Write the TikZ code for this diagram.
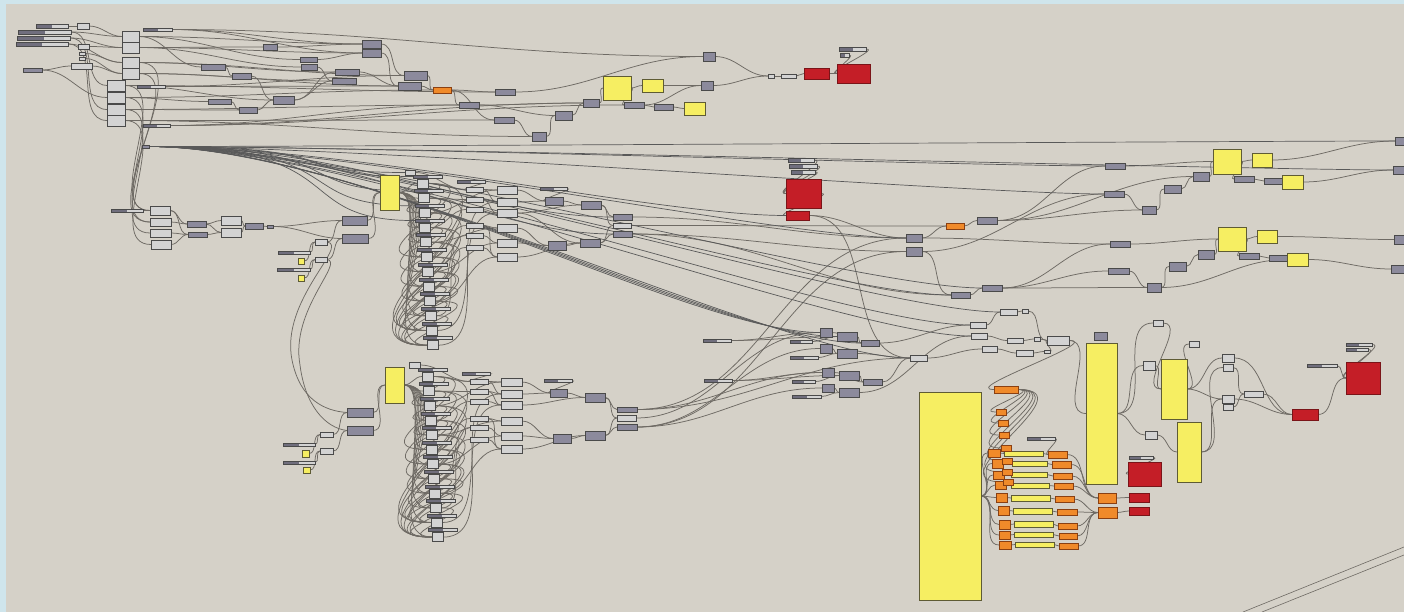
\documentclass[tikz,border=0pt]{standalone}
\usetikzlibrary{positioning}
\pgfdeclarelayer{canvaslayer}
\pgfdeclarelayer{wirelayer}
\pgfsetlayers{canvaslayer,wirelayer,main}
\definecolor{canvas}{HTML}{D5D1C8}
\definecolor{ghblue}{HTML}{CFE5EC}
\definecolor{ghdark}{HTML}{8C8A9C}
\definecolor{ghlight}{HTML}{D3D3D3}
\definecolor{ghedge}{HTML}{4A4A4A}
\definecolor{ghyellow}{HTML}{F6EE62}
\definecolor{ghyedge}{HTML}{5E5B34}
\definecolor{ghred}{HTML}{C41E27}
\definecolor{ghredge}{HTML}{7A1418}
\definecolor{ghorange}{HTML}{F08A2A}
\definecolor{ghoedge}{HTML}{8A4012}
\definecolor{ghwire}{HTML}{6E6A64}
\begin{document}
\begin{tikzpicture}[x=1pt, y=-1pt,
  box/.style={rectangle, inner sep=0pt, outer sep=0pt, anchor=north west, line width=0.6pt},
  sz/.style n args={2}{minimum width=#1pt, minimum height=#2pt},
  dk/.style={box, fill=ghdark, draw=ghedge},
  lt/.style={box, fill=ghlight, draw=ghedge},
  sld/.style={lt, path picture={\fill[ghdark!80!black] (path picture bounding box.north west) rectangle (path picture bounding box.south);}},
  yl/.style={box, fill=ghyellow, draw=ghyedge},
  rd/.style={box, fill=ghred, draw=ghredge},
  og/.style={box, fill=ghorange, draw=ghoedge},
  wire/.style={draw=ghwire, line width=0.75pt, out=0, in=180},
  hub/.style={draw=black!65, line width=0.7pt},
]
\useasboundingbox (0,0) rectangle (1404,612);
% --- canvas ---
\begin{pgfonlayer}{canvaslayer}
\fill[canvas] (0,0) rectangle (1404,612);
\fill[ghblue] (0,0) rectangle (1404,4);
\fill[ghblue] (0,0) rectangle (6,612);
\end{pgfonlayer}

% --- sliders ---
\foreach \n/\x/\y/\w/\h in {sl1/36/24/32/4, sl2/18/30/53/4, sl3/17/36/53/4, sl4/16/42/52/4,
  sl5/143/28/29/3, sl6/137/85/28/3, sl7/143/124/27/3, sl8/839/47/27/4, sl32/840/53/9/4,
  sl9/111/209/32/3, sl10/278/251/32/3, sl11/277/268/33/3, sl12/457/180/28/3, sl13/540/187/27/3,
  sl14/788/158/26/4, sl15/789/164/28/4, sl16/791/170/24/4, sl17/703/339/28/3, sl18/790/340/22/3,
  sl19/790/356/28/3, sl20/704/379/28/3, sl21/792/380/23/3, sl22/792/395/29/3, sl23/283/443/32/3,
  sl24/283/461/32/3, sl25/462/372/28/3, sl26/544/379/28/3, sl27/1027/437/28/3, sl28/1129/456/24/3,
  sl29/1307/364/30/3, sl30/1346/343/26/3, sl31/1346/348/22/3}
  \node[sld, sz={\w}{\h}] (\n) at (\x,\y) {};

% --- dark params ---
\foreach \n/\x/\y/\w/\h in {dk1/23/68/19/4, dk2/142/145/7/3, d3/263/44/14/6, d4/300/57/17/5,
  d5/301/64/16/6, d6/201/64/24/6, d7/232/73/19/6, d8/335/69/24/6, d9/332/78/24/6,
  d10/362/40/19/8, d11/362/49/19/8, d12/404/71/23/9, d13/398/82/23/8, d14/459/102/20/6,
  d15/273/96/21/8, d16/208/99/23/5, d17/239/107/18/6, d18/495/89/20/6, d19/494/117/20/6,
  d20/532/132/14/9, d21/555/111/17/9, d22/583/99/16/8, d23/624/102/20/6, d24/654/104/19/6,
  d25/701/81/12/9, d26/703/52/12/9, d27/187/221/19/6, d28/188/232/19/5, d29/245/223/18/6,
  d30/267/225/6/3, d31/342/216/25/9, d32/342/234/26/9, d33/545/197/18/8, d34/581/201/20/8,
  d35/548/241/18/9, d36/580/239/20/8, d37/613/214/19/6, d38/613/231/19/6, d39/977/217/20/7,
  d40/906/234/16/8, d41/906/247/16/9, d42/951/292/19/6, d43/982/285/20/6, d44/1105/163/20/6,
  d45/1193/172/16/9, d46/1234/176/20/6, d47/1264/178/18/6, d48/1164/185/17/8, d49/1104/191/20/6,
  d50/1142/206/14/8, d51/1395/137/12/8, d52/1393/166/12/8, d53/1110/241/20/6, d54/1198/250/16/9,
  d55/1239/253/20/6, d56/1269/255/18/6, d57/1169/262/17/9, d58/1108/268/21/6, d59/1147/283/14/9,
  d60/1394/235/12/9, d61/1391/265/13/8, d62/1094/332/13/8, d63/820/328/12/9, d64/837/332/20/9,
  d65/861/340/18/6, d66/820/344/12/9, d67/837/349/20/9, d68/822/368/12/9, d69/839/371/20/9,
  d70/863/379/19/6, d71/822/384/12/8, d72/839/388/20/9, d73/347/408/26/9, d74/347/426/26/9,
  d75/550/389/17/8, d76/585/393/20/9, d77/553/434/18/9, d78/585/431/20/9, d79/617/407/20/5,
  d80/617/424/20/6}
  \node[dk, sz={\w}{\h}] (\n) at (\x,\y) {};

% --- light components ---
\foreach \n/\x/\y/\w/\h in {lt1/77/23/12/6, lt2/78/44/11/5, lt3/79/52/6/3, lt4/79/57/6/3,
  lt5/71/63/21/6, ca1/122/31/17/11, ca2/122/42/17/11, ca3/122/57/17/11, ca4/122/68/17/11,
  cb1/107/80/18/11, cb2/107/92/18/11, cb3/107/104/18/11, cb4/107/115/18/11,
  ce1/150/206/20/9, ce2/150/218/21/8, ce3/150/229/21/8, ce4/151/240/20/9,
  lt6/221/216/20/9, lt7/221/228/20/9, lt8/315/239/12/6, lt9/315/257/12/5,
  t1/768/74/6/4, t2/781/74/15/4, lta/405/170/10/5, ltb/409/362/11/6,
  m1/466/187/17/5, m2/466/197/17/5, m3/466/207/17/5, m4/466/223/17/5, m5/466/233/17/5, m6/466/245/17/5,
  n1/497/186/20/8, n2/497/198/20/8, n3/497/209/20/8, n4/497/224/20/8, n5/497/239/20/8, n6/497/253/20/8,
  m7/470/379/18/5, m8/470/389/18/5, m9/470/399/18/5, m10/470/416/18/5, m11/470/425/18/5, m12/470/437/18/5,
  n7/501/378/21/8, n8/501/390/21/8, n9/501/401/21/8, n10/501/417/21/8, n11/501/432/21/8, n12/501/445/21/8,
  lt10/613/223/18/5, lt11/1000/309/17/6, t3/1022/309/6/4, lt12/970/322/16/6, lt13/971/333/16/6,
  lt14/1007/338/16/5, t4/1034/337/6/4, lt15/1047/336/22/9, lt16/982/346/15/6, lt17/1016/350/17/6,
  t5/1044/350/6/3, lt18/910/355/17/6, lt19/320/432/13/5, lt20/320/448/13/6, lt22/617/415/19/6,
  lt23/1145/431/12/8, lt24/1153/320/10/6, lt25/1143/361/12/9, lt26/1189/341/10/6,
  lt27/1222/354/12/8, lt28/1223/364/10/7, lt29/1222/395/12/8, lt30/1223/404/10/6, lt31/1244/391/19/6}
  \node[lt, sz={\w}{\h}] (\n) at (\x,\y) {};

% --- spines ---
\foreach \i in {0,...,11} {
  \pgfmathsetmacro\xx{417+0.9*\i}
  \pgfmathsetmacro\yy{179+14.7*\i}
  \node[sld, sz={29}{3}] (spas\i) at (\xx-4,\yy-4) {};
  \node[lt, sz={11}{9}] (spa\i) at (\xx,\yy) {};
  \pgfmathsetmacro\xb{422+0.95*\i}
  \pgfmathsetmacro\yb{372+14.6*\i}
  \node[sld, sz={29}{3}] (spbs\i) at (\xb-4,\yb-4) {};
  \node[lt, sz={11}{9}] (spb\i) at (\xb,\yb) {};
}

% --- yellow panels ---
\foreach \n/\x/\y/\w/\h in {yA/603/76/28/24, yB/642/79/21/13, yC/684/102/21/13, yD/380/175/19/35,
  yE/1213/149/28/25, yF/1252/153/20/14, yG/1282/175/21/14, yH/1218/227/28/24, yI/1257/230/20/13,
  yJ/1287/253/21/13, yK/385/367/19/36, yL/919/392/62/208, yM/1086/343/31/141, yN/1161/359/26/60,
  yO/1177/422/24/60, y1/298/258/6/6, y2/298/275/6/6, y3/302/450/7/7, y4/303/467/7/6,
  yb1/1004/451/39/5, yb2/1012/461/35/5, yb3/1011/472/36/5, yb4/1011/483/38/5, yb5/1011/495/39/6,
  yb6/1013/508/39/6, yb7/1014/521/39/6, yb8/1014/532/39/5, yb9/1015/542/39/5}
  \node[yl, sz={\w}{\h}] (\n) at (\x,\y) {};

% --- red ---
\foreach \n/\x/\y/\w/\h in {r1/804/68/25/11, r2/837/64/33/19, r3/786/179/35/29, r4/786/211/23/9,
  r5/1129/493/20/9, r6/1129/507/20/8, r7/1128/462/33/24, r8/1292/409/26/11, r9/1346/362/34/32}
  \node[rd, sz={\w}{\h}] (\n) at (\x,\y) {};

% --- orange ---
\foreach \n/\x/\y/\w/\h in {or1/433/87/18/6, or2/946/223/18/6, or3/994/386/24/7, or4/1098/493/18/10,
  or5/1098/507/19/11, os1/996/409/10/6, os2/998/420/10/6, os3/999/432/10/6,
  oa1/988/449/12/8, oa2/992/459/11/9, oa3/993/471/11/8, oa4/995/481/11/8,
  ob1/1001/445/10/6, ob2/1002/458/10/6, ob3/1002/469/10/6, ob4/1003/479/10/6,
  oc1/996/493/11/9, oc2/998/506/11/9, oc3/999/520/11/9, oc4/999/531/11/8, oc5/999/541/12/8,
  orr1/1048/451/19/7, orr2/1052/461/19/7, orr3/1053/473/19/6, orr4/1054/483/19/6, orr5/1055/496/19/6,
  orr6/1057/509/20/6, orr7/1058/523/19/6, orr8/1059/533/18/6, orr9/1059/543/19/6}
  \node[og, sz={\w}{\h}] (\n) at (\x,\y) {};

% --- wires ---
\begin{pgfonlayer}{wirelayer}
\foreach \a/\b in {sl1/lt1, sl2/ca1, sl3/ca2, sl4/ca3, lt1/ca1, lt2/ca2, lt3/ca3, lt4/ca4, lt5/ca4,
  dk1/lt5, dk1/cb2, sl2/cb1, sl3/cb3, sl4/cb4,
  ca1/d10, ca2/d11, ca1/d4, ca2/d3, ca3/d8, ca4/d9, ca3/d12, ca4/d13, ca1/d6, ca2/d5,
  cb1/d15, cb2/d16, cb3/d14, cb4/d19, cb1/d18, cb2/or1, cb3/d17, cb4/d20,
  sl5/d10, sl5/d11, sl6/d12, sl6/d13, sl7/d14, sl7/d23, sl7/d22, sl5/d26,
  d6/d7, d7/d15, d16/d17, d17/d15, d15/d8, d15/d9, d3/d10, d4/d11, d5/d9, d10/d12, d11/d13, d8/d13,
  d12/or1, d13/or1, or1/d14, or1/d18, or1/d19, d14/d22, d18/d26, d19/d20, d20/d21, d21/d22,
  d22/yA, yA/yB, yA/d23, d23/d24, d24/yC, yB/d25, d23/d25, d25/t1, d26/t1, t1/t2, t2/r1, r1/r2,
  sl8/r2, sl32/r2, d14/d21,
  cb1/ce1, cb2/ce2, cb3/ce3, cb4/ce4, ca4/ce1, ca3/ce2,
  sl9/ce1, ce1/d27, ce2/d27, ce3/d28, ce4/d28, ce1/d28, d27/lt6, d28/lt7, d27/lt7,
  lt6/d29, lt7/d29, d29/d30, d30/d31, d30/d32, d31/yD, d32/yD, lt8/d31, lt9/d32,
  sl10/lt8, y1/lt8, sl11/lt9, y2/lt9,
  lta/m1, sl12/m1, m1/n1, m2/n2, m3/n3, m4/n4, m5/n5, m6/n6, m1/n2, m4/n6, m2/n3,
  n1/d33, n2/d33, n3/d34, sl13/d33, n4/d35, n5/d35, n6/d36, d33/d34, d35/d36,
  d34/d37, d34/lt10, d36/d38, d36/lt10, n3/d36, d37/d40, d38/d41, lt10/or2, d38/d42,
  sl14/r3, sl15/r3, sl16/r3, r3/r4, r4/d40, r4/lt18, d40/or2, or2/d39, d39/d44, d39/d45, d39/d50,
  d41/d42, d42/d43, d43/d58, d43/d53, d43/d59, d41/d49, d40/d53,
  d44/yE, d49/d50, d50/d48, d48/d45, d45/yE, yE/yF, yE/d46, d46/d47, d47/yG, yF/d51, yG/d52,
  d53/yH, d58/d59, d59/d57, d57/d54, d54/yH, yH/yI, yH/d55, d55/d56, d56/yJ, yI/d60, yJ/d61, d59/yJ,
  sl17/d63, sl17/d64, sl18/d64, sl19/d67, d63/d65, d64/d65, d66/d67, d67/lt18, d65/lt12,
  lt18/lt16, lt12/lt11, lt13/lt14, lt16/lt17, lt11/t3, lt14/t4, lt17/t5, t3/lt15, t4/lt15, t5/lt15,
  lt15/or3, lt15/yM, sl20/d68, sl20/d69, sl21/d69, sl22/d72, d68/d70, d69/d70, d71/d72, d70/lt18, d72/lt13,
  sl23/lt19, y3/lt19, sl24/lt20, y4/lt20, lt19/d73, lt20/d74, d73/yK, d74/yK,
  ltb/m7, sl25/m7, m7/n7, m8/n8, m9/n9, m10/n10, m11/n11, m12/n12, m7/n8, m10/n12, m8/n9,
  n7/d75, n8/d75, n9/d76, sl26/d75, n10/d77, n11/d77, n12/d78, d75/d76, d77/d78,
  d76/d79, d76/lt22, d78/d80, d78/lt22, d79/d68, d80/d71, lt22/d63, d79/lt18, d80/d66, d79/d40, d80/d41,
  oa1/yb1, oa2/yb2, oa3/yb3, oa4/yb4, ob1/yb1, ob2/yb2, ob3/yb3, ob4/yb4,
  oc1/yb5, oc2/yb6, oc3/yb7, oc4/yb8, oc5/yb9,
  yb1/orr1, yb2/orr2, yb3/orr3, yb4/orr4, yb5/orr5, yb6/orr6, yb7/orr7, yb8/orr8, yb9/orr9,
  orr1/or4, orr2/or4, orr3/or4, orr4/or4, orr5/or5, orr6/or5, orr7/or5, orr8/or5, orr9/or5,
  sl27/orr1, or4/r5, or5/r6, sl28/r7,
  yM/lt25, yM/lt23, yM/lt24, lt25/yN, lt23/yO, lt24/yN, yN/lt27, yN/lt29, yN/lt26, yO/lt29, yO/lt28,
  lt27/r8, lt28/lt31, lt29/r8, lt30/lt31, lt31/r8, r8/r9, sl29/r9, sl30/r9, sl31/r9}
  \draw[wire] (\a.east) to (\b.west);

% spine fans and loops
\foreach \i in {0,...,11} {
  \draw[wire] (yD.east) to (spa\i.west);
  \draw[wire] (yK.east) to (spb\i.west);
}
\foreach \i [evaluate=\i as \j using int(\i+2)] in {0,...,9} {
  \draw[wire] (spa\i.east) .. controls +(45,0) and +(-45,0) .. (spa\j.west);
  \draw[wire] (spb\i.east) .. controls +(45,0) and +(-45,0) .. (spb\j.west);
}
\foreach \i [evaluate=\i as \k using int(\i+5)] in {0,...,6} {
  \draw[wire] (spa\i.east) .. controls +(80,0) and +(-80,0) .. (spa\k.west);
  \draw[wire] (spb\i.east) .. controls +(80,0) and +(-80,0) .. (spb\k.west);
}
\foreach \i/\k/\d in {0/11/120, 2/11/110, 4/11/100, 6/11/90, 8/11/80, 1/10/115, 3/10/105, 5/10/95, 7/10/85} {
  \draw[wire] (spa\i.east) .. controls +(\d,0) and +(-\d,0) .. (spa\k.west);
  \draw[wire] (spb\i.east) .. controls +(\d,0) and +(-\d,0) .. (spb\k.west);
}
\foreach \a/\b in {0/m1, 1/m2, 3/m3, 5/m4, 7/m5, 9/m6, 2/n1, 4/n4, 6/n5, 8/n6, 10/n3, 11/n2} {
  \draw[wire] (spa\a.east) to (\b.west);
}
\foreach \a/\b in {0/m7, 1/m8, 3/m9, 5/m10, 7/m11, 9/m12, 2/n7, 4/n10, 6/n11, 8/n12, 10/n9, 11/n8} {
  \draw[wire] (spb\a.east) to (\b.west);
}

% hub bundle
\foreach \b in {spas0, spas1, spas2, spas3, lta, d37, d38, r4, d40, d44, d49, d51, lt18, d63, d64,
  lt12, lt13, d42, d43, d65, lt11, d52}
  \draw[hub] (dk2.east) .. controls +(210,0) and +(-130,0) .. (\b.west);

% bottom-right fans
\foreach \b in {oa1, oa2, oa3, oa4, oc1, oc2, oc3, oc4, oc5}
  \draw[wire] (yL.east) to (\b.west);
\foreach \b in {os1, os2, os3, ob1, ob2, ob3, ob4}
  \draw[wire, looseness=2] (or3.east) to (\b.west);

% long drops to the lower group
\draw[wire] (lt8.east) .. controls (350,245) and (280,300) .. (292,360) .. controls (300,400) and (325,411) .. (d73.west);
\draw[wire] (lt9.east) .. controls (345,262) and (290,310) .. (300,365) .. controls (305,405) and (325,428) .. (d74.west);
\end{pgfonlayer}

% off-canvas lines
\coordinate (dgA) at (1243,612);
\coordinate (dgB) at (1404,547);
\coordinate (dgC) at (1262,612);
\coordinate (dgD) at (1404,555);
\draw[ghwire, line width=0.6pt] (dgA) -- (dgB);
\draw[ghwire, line width=0.6pt] (dgC) -- (dgD);
\end{tikzpicture}
\end{document}
